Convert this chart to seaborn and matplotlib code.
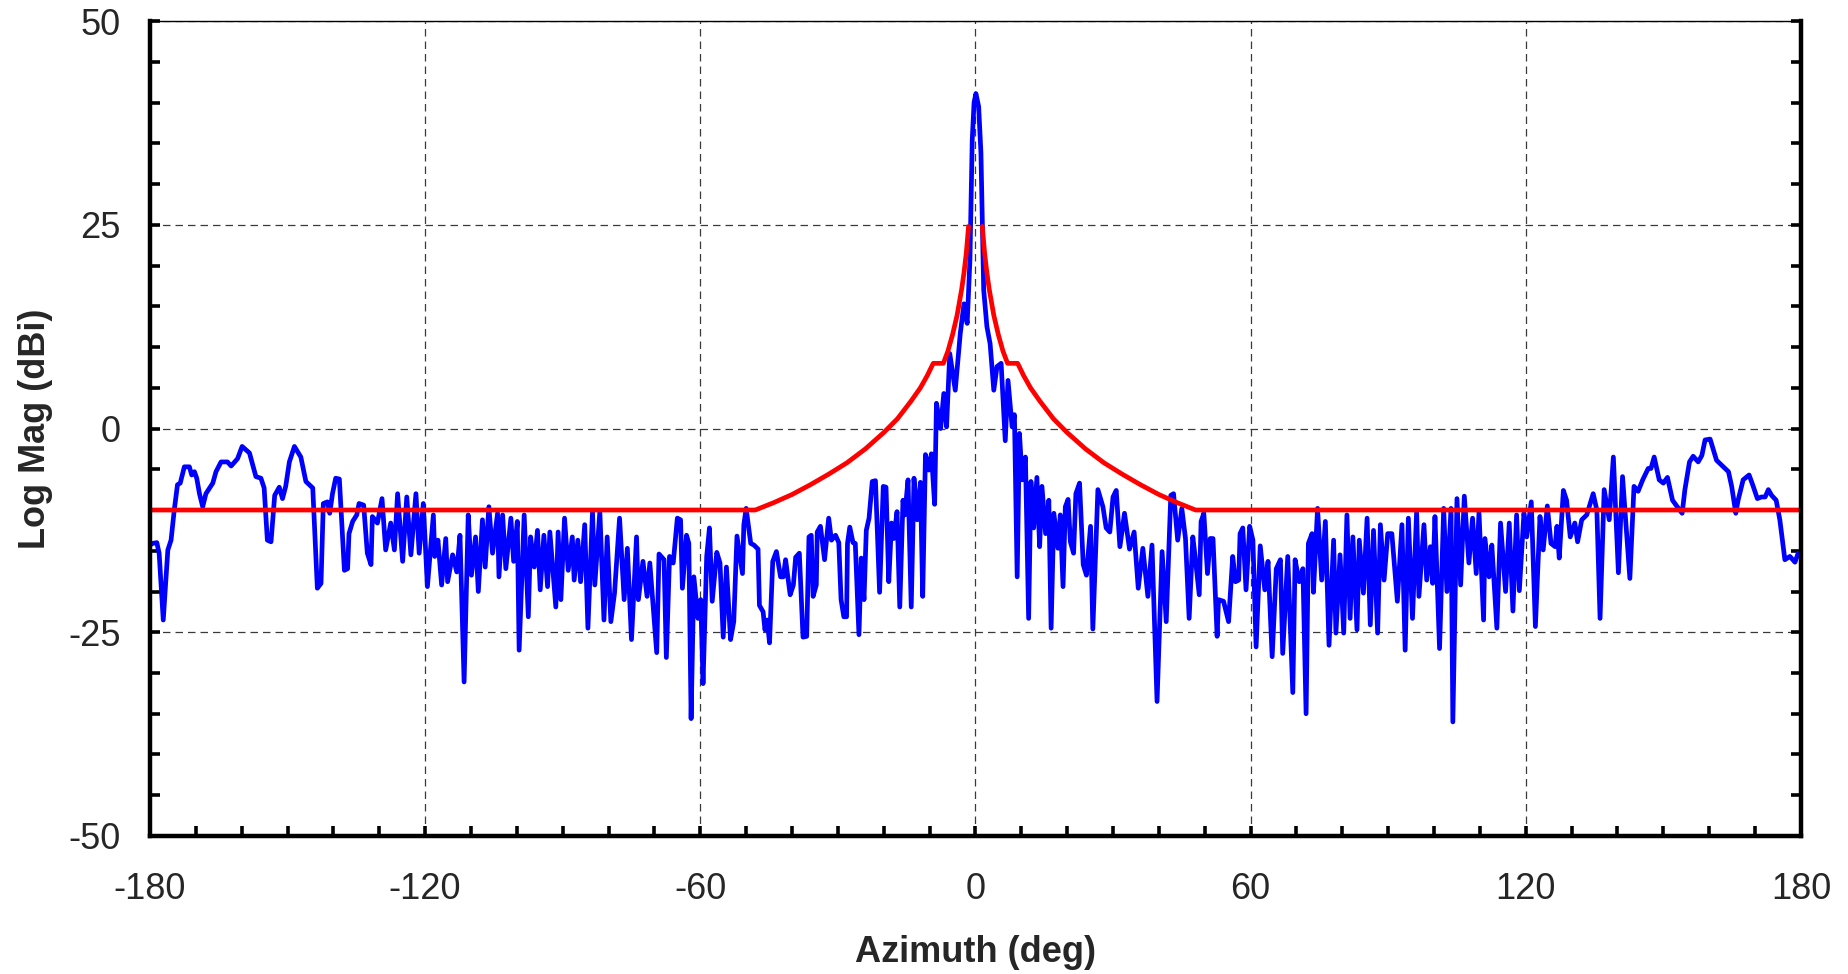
import numpy as np
import pandas as pd
import matplotlib
matplotlib.use("Agg")
import matplotlib.pyplot as plt
from matplotlib.ticker import MultipleLocator
import seaborn as sns

azimuth = [
    -180.0, -179.4, -178.5, -178.0, -177.1, -176.1, -175.4, -174.7, -174.0, -173.4,
    -172.5, -171.4, -170.9, -170.3, -169.8, -169.2, -168.5, -167.8, -166.3, -165.6,
    -164.5, -163.1, -162.3, -160.9, -159.9, -158.3, -156.9, -155.8, -155.1, -154.4,
    -153.6, -152.8, -151.8, -151.1, -150.4, -149.6, -148.5, -147.1, -146.0, -144.5,
    -143.5, -142.7, -142.2, -141.3, -140.8, -140.2, -139.5, -138.7, -137.6, -136.9,
    -136.6, -135.8, -134.9, -134.4, -133.4, -132.6, -131.8, -131.5, -130.4, -129.4,
    -128.6, -127.5, -126.7, -126.0, -124.9, -124.0, -123.1, -122.0, -121.3, -120.4,
    -119.5, -118.2, -117.9, -117.2, -116.4, -115.5, -115.1, -114.0, -113.1, -112.4,
    -111.5, -110.6, -109.9, -109.0, -108.4, -107.5, -106.9, -106.1, -105.3, -104.2,
    -103.9, -103.1, -102.4, -101.3, -100.7, -99.9, -99.5, -98.4, -97.5, -97.0,
    -96.2, -95.5, -94.9, -94.1, -93.3, -92.8, -91.5, -91.0, -90.4, -89.6,
    -88.8, -87.9, -87.5, -86.7, -86.1, -85.2, -84.5, -83.5, -83.0, -81.9,
    -81.0, -80.3, -79.5, -78.7, -77.6, -76.6, -75.9,
    -75.0, -73.9, -73.5, -72.5, -71.6, -71.0, -69.5, -69.0, -67.9, -67.4,
    -66.7, -65.9, -65.0, -64.3, -63.9, -63.0, -62.5, -62.0, -61.4, -60.5,
    -59.9, -59.4, -58.6, -58.0, -57.4, -56.4, -55.7, -55.0, -54.3, -53.4,
    -52.7, -52.0, -50.8, -50.5, -50.0, -49.0, -48.3, -47.4, -47.1, -46.3,
    -45.9, -45.4, -44.9, -44.2, -43.4, -42.5, -41.9, -41.4, -40.4, -39.7,
    -39.2, -38.4, -37.6, -36.8, -36.3, -35.8, -35.4, -34.7, -34.5, -33.8,
    -32.9, -32.0, -31.4, -30.5, -29.8, -29.3, -28.7, -28.1, -27.9, -27.4,
    -26.7, -26.2, -25.4, -24.9, -24.3, -23.8, -23.2, -22.5, -21.8, -20.9,
    -20.1, -19.5, -18.9, -18.3, -17.8, -17.1, -16.5, -15.8, -15.4, -14.7,
    -14.0, -13.4, -12.7, -12.0, -11.5, -10.9, -10.2, -9.6, -8.9, -8.5,
    -7.6, -6.9, -6.3, -5.6, -4.4, -3.3, -2.5, -1.8, -1.2, -0.7,
    -0.3, 0.1, 0.7, 1.2, 1.8, 2.5, 3.2, 4.0, 4.7, 5.6,
    6.5, 7.1, 8.0, 8.5, 9.1, 9.6, 10.2, 10.9, 11.6, 12.1,
    12.7, 13.4, 14.0, 14.5, 15.3, 16.0, 16.5, 17.1, 18.0, 18.5,
    19.1, 19.6, 20.2, 20.7, 21.4, 21.9, 22.7, 23.5, 24.2, 25.1,
    25.6, 26.7, 27.8, 28.5, 29.3, 30.0, 30.7, 31.5, 32.5, 33.6,
    34.6, 35.5, 36.5, 37.6, 38.5, 39.6, 40.7, 41.6, 42.6, 43.2,
    44.1, 45.0, 45.8, 46.6, 47.4, 47.9, 48.8, 49.2, 49.8, 50.6,
    51.2, 51.8, 52.7, 53.0, 54.1, 55.2, 56.1, 56.7, 57.4, 57.7,
    58.3, 59.0, 59.8, 60.5, 61.2, 62.1, 63.1, 63.8, 64.7, 65.6,
    66.5, 67.0, 68.1, 69.2, 69.7, 70.6, 71.4, 72.1, 72.6, 73.4,
    73.7, 74.6, 75.5, 76.3, 77.1, 78.1, 78.6, 79.5, 80.3, 81.0,
    81.7, 82.3, 83.2, 83.7, 84.6, 85.4, 86.1, 86.8, 87.7, 88.3,
    89.1, 89.9, 90.8, 92.0, 93.0, 93.7, 94.4, 95.3, 96.2, 96.7,
    97.8, 98.4, 99.2, 99.7, 100.2, 101.2, 102.1, 102.8, 103.7, 104.1,
    105.0, 105.8, 106.6, 107.6, 108.4, 109.2, 109.8, 110.8, 111.1, 112.0,
    112.6, 113.7, 114.5, 115.6, 116.4, 117.2, 118.0, 118.6, 119.6, 120.2,
    121.2, 122.1, 123.1, 123.8, 124.7, 125.5, 126.4, 126.8, 127.3, 128.2,
    128.9, 129.7, 130.7, 131.3, 132.2, 133.3, 134.7, 135.5, 136.2, 137.1,
    138.2, 139.1, 140.2, 141.1, 142.7, 143.6, 144.5, 145.5, 146.7, 147.3,
    148.0, 149.1, 150.0, 150.9, 152.0, 152.9, 154.1, 154.7, 155.7, 156.5,
    157.6, 158.4, 159.1, 160.2, 161.6, 163.1, 164.2, 164.9, 165.8, 166.3,
    167.4, 168.7, 169.6, 170.5, 171.4, 172.2, 172.9, 173.6, 174.6, 175.4,
    176.5, 177.6, 178.7, 179.4,
]
gain = [
    -14.3, -14.1, -14.0, -15.3, -23.5, -14.9, -13.7, -10.0, -6.9, -6.7,
    -4.7, -4.7, -5.7, -5.3, -6.1, -8.0, -9.6, -8.0, -6.7, -5.3,
    -4.1, -4.1, -4.6, -3.7, -2.2, -3.0, -5.9, -6.1, -7.3, -13.7,
    -13.9, -8.2, -7.2, -8.6, -7.1, -4.1, -2.2, -3.5, -6.5, -7.3,
    -19.6, -19.0, -9.2, -9.0, -10.4, -8.0, -6.1, -6.2, -17.4, -17.2,
    -12.9, -11.4, -10.6, -9.2, -9.4, -15.3, -16.7, -10.8, -11.6, -8.6,
    -14.9, -11.6, -14.9, -8.0, -16.3, -8.4, -15.5, -8.0, -15.3, -9.2,
    -19.4, -10.6, -15.7, -13.7, -19.2, -13.5, -18.8, -15.5, -17.6, -13.1,
    -31.1, -10.6, -18.0, -13.3, -20.0, -11.2, -17.0, -9.6, -15.3, -10.4,
    -18.2, -10.6, -17.2, -11.0, -16.3, -11.4, -27.2, -10.6, -23.1, -13.3,
    -17.0, -12.5, -19.8, -13.1, -19.4, -12.7, -21.9, -12.7, -21.0, -11.0,
    -17.4, -13.3, -18.6, -13.7, -18.8, -11.8, -24.5, -10.2, -19.2, -10.2,
    -23.5, -13.3, -23.7, -20.2, -11.0, -21.0, -14.7,
    -25.9, -13.3, -21.0, -16.3, -20.6, -16.5, -27.5, -15.4, -16.1, -28.1,
    -15.7, -16.5, -11.0, -11.2, -19.6, -13.1, -14.1, -35.6, -18.2, -23.3,
    -21.0, -31.3, -15.7, -12.2, -21.2, -15.2, -16.5, -25.6, -17.0, -25.9,
    -23.7, -13.2, -17.8, -11.8, -9.8, -14.1, -14.3, -14.8, -21.7, -22.5,
    -24.7, -23.5, -26.3, -16.3, -15.1, -18.2, -18.2, -16.1, -20.4, -19.2,
    -15.8, -15.3, -25.6, -25.5, -13.3, -13.1, -20.6, -19.2, -12.7, -12.0,
    -16.1, -11.0, -13.7, -13.1, -14.0, -21.0, -23.1, -23.1, -14.1, -12.1,
    -14.0, -14.1, -25.3, -15.9, -21.0, -12.5, -11.0, -6.5, -6.4, -20.1,
    -7.1, -7.2, -18.8, -11.6, -13.5, -10.2, -21.9, -8.8, -10.6, -6.3,
    -21.9, -6.1, -11.2, -6.6, -20.6, -3.2, -5.1, -3.1, -9.3, 3.1,
    0.0, 4.3, 0.2, 9.2, 4.7, 11.7, 15.3, 12.9, 20.7, 35.4,
    40.0, 41.1, 39.5, 33.8, 17.0, 12.5, 10.4, 4.7, 7.6, 8.0,
    -1.5, 5.9, 0.2, 1.7, -18.2, -0.6, -6.3, -3.5, -23.3, -6.5,
    -12.2, -6.0, -14.5, -7.1, -12.9, -8.8, -24.5, -10.4, -14.7, -10.6,
    -19.4, -9.6, -8.7, -13.9, -15.3, -8.0, -6.7, -16.7, -18.0, -12.0,
    -24.6, -7.5, -9.6, -12.2, -12.7, -8.4, -7.6, -14.5, -10.4, -14.8,
    -12.7, -19.6, -14.7, -20.6, -14.3, -33.5, -15.1, -23.7, -8.2, -8.0,
    -13.7, -9.8, -13.5, -23.3, -13.3, -15.7, -20.4, -11.4, -10.4, -17.8,
    -13.5, -13.5, -25.5, -21.0, -21.2, -23.7, -15.7, -18.8, -18.6, -12.9,
    -12.2, -19.8, -12.0, -13.7, -26.8, -14.4, -19.8, -16.3, -28.0, -17.2,
    -16.1, -27.6, -15.7, -32.4, -16.1, -18.8, -17.2, -35.0, -14.1, -12.9,
    -20.1, -9.8, -18.6, -11.4, -26.6, -13.7, -25.1, -15.5, -25.1, -10.6,
    -23.3, -13.3, -24.7, -13.7, -20.2, -11.0, -24.1, -12.5, -25.1, -11.8,
    -18.6, -12.9, -12.9, -21.2, -11.8, -27.2, -11.0, -23.3, -10.2, -20.6,
    -11.8, -18.6, -14.5, -19.0, -10.8, -27.0, -9.8, -20.0, -9.8, -36.0,
    -8.6, -19.2, -8.3, -16.5, -11.0, -17.8, -10.3, -23.5, -13.5, -18.2,
    -14.3, -24.5, -11.6, -20.0, -11.6, -22.4, -10.6, -19.9, -10.4, -13.3,
    -9.0, -24.3, -10.8, -14.9, -9.5, -14.1, -14.5, -12.0, -15.9, -7.6,
    -8.8, -13.3, -11.6, -13.9, -11.2, -10.6, -8.0, -10.0, -23.3, -7.5,
    -11.2, -3.5, -17.7, -5.9, -18.4, -7.1, -7.7, -6.3, -4.9, -4.9,
    -3.5, -6.3, -6.7, -6.0, -8.8, -9.5, -10.4, -7.5, -4.1, -3.4,
    -4.1, -3.3, -1.4, -1.3, -3.9, -4.7, -5.3, -7.1, -10.4, -8.8,
    -6.3, -5.7, -7.1, -8.6, -8.4, -8.4, -7.5, -8.2, -8.8, -11.2,
    -16.1, -15.7, -16.4, -15.3,
]

# --- sidelobe mask, symmetric about boresight (off-axis angle in deg, dBi) ---
mask_angle = [1.5, 2, 2.5, 3, 4, 5, 6, 7, 9.2, 10.5, 12, 14, 17, 20, 24, 28, 32, 36, 40, 44, 48, 180]
mask_level = [24.8, 21.5, 19.1, 17.1, 13.9, 11.5, 9.5, 8.0, 8.0, 6.5, 5.0, 3.4, 1.2, -0.5, -2.5, -4.2, -5.6, -6.9, -8.1, -9.1, -10.0, -10.0]

x_ticks = [-180, -120, -60, 0, 60, 120, 180]
y_ticks = [-50, -25, 0, 25, 50]

pattern = pd.DataFrame({"Azimuth": azimuth, "Gain": gain})
mask = pd.DataFrame({"Angle": mask_angle, "Level": mask_level})

sns.set_style("white")
plt.rcParams["font.family"] = ["Liberation Sans", "DejaVu Sans"]
plt.rcParams["axes.unicode_minus"] = False

fig = plt.figure(figsize=(18.49, 9.74), dpi=100)
ax = fig.add_axes([0.0811, 0.1417, 0.8929, 0.8367])

sns.lineplot(data=pattern, x="Azimuth", y="Gain", ax=ax, color="#0000ff",
             linewidth=3.4, estimator=None, sort=False)
# mask drawn on both sides, with a gap around the main beam
sns.lineplot(x=-mask["Angle"], y=mask["Level"], ax=ax, color="#ff0000",
             linewidth=3.4, estimator=None, sort=False)
sns.lineplot(x=mask["Angle"], y=mask["Level"], ax=ax, color="#ff0000",
             linewidth=3.4, estimator=None, sort=False)

ax.set_xlim(-180, 180)
ax.set_ylim(-50, 50)
ax.set_xticks(x_ticks)
ax.set_yticks(y_ticks)
ax.xaxis.set_minor_locator(MultipleLocator(10))
ax.yaxis.set_minor_locator(MultipleLocator(5))

ax.grid(True, which="major", color="#3a3a3a", linestyle=(0, (6, 4)), linewidth=0.9)

for side in ["left", "right", "bottom"]:
    ax.spines[side].set_linewidth(3.2)
    ax.spines[side].set_color("black")
ax.spines["top"].set_linewidth(1.0)
ax.spines["top"].set_color("black")

ax.tick_params(axis="both", which="both", direction="in", length=7, width=2.6,
               color="black", top=False, right=True, left=True, bottom=True)
ax.tick_params(axis="x", which="major", labelsize=26, pad=26)
ax.tick_params(axis="y", which="major", labelsize=26, pad=21)

ax.set_xlabel("Azimuth (deg)", fontsize=26, fontweight="bold")
ax.set_ylabel("Log Mag (dBi)", fontsize=26, fontweight="bold")
ax.xaxis.set_label_coords(0.5, -0.121)
ax.yaxis.set_label_coords(-0.059, 0.5)

fig.savefig("out.png", dpi=100)
